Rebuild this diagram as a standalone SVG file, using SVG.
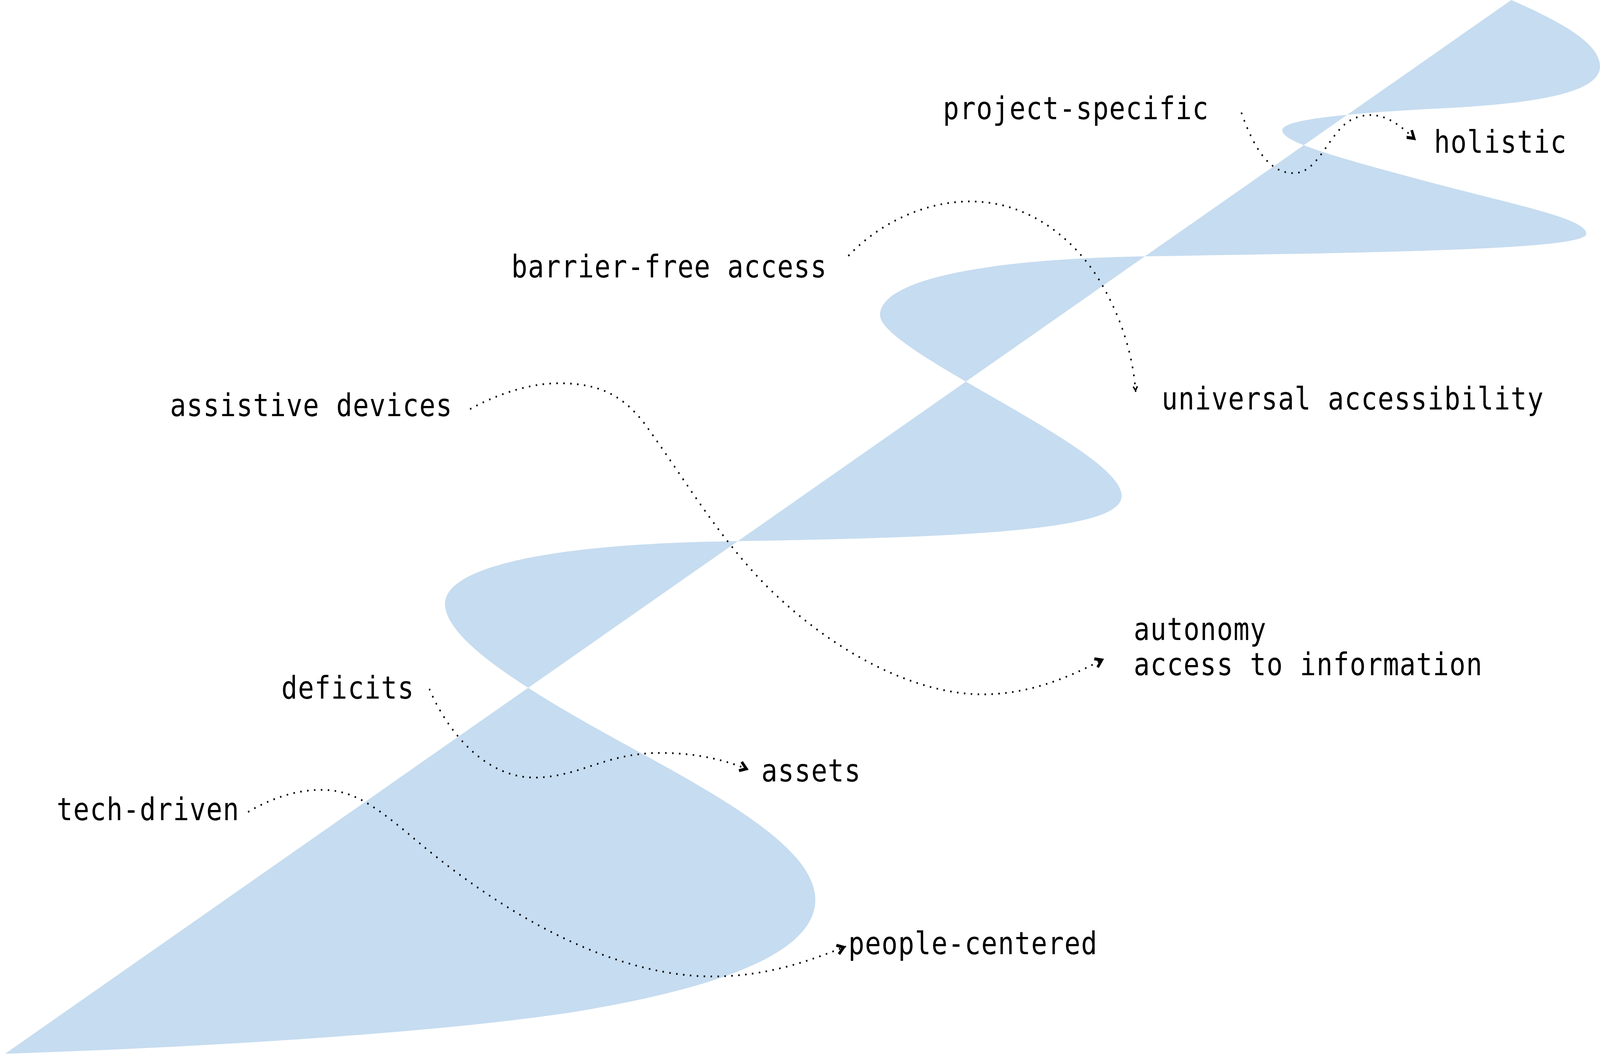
<svg xmlns="http://www.w3.org/2000/svg" width="4800" height="2700" viewBox="0 0 4800 2700" preserveAspectRatio="none">
<style>
svg{width:100vw;height:100vh}
.lbl{font-family:"DejaVu Sans Mono","Liberation Mono",monospace;font-size:80px;letter-spacing:1.7px;fill:#000}
.con{fill:none;stroke:#000;stroke-width:4.5;stroke-dasharray:4.5 16.2}
.ribbon{fill:#c6dcf0;fill-rule:nonzero;stroke:none}
</style>
<defs>
<marker id="arr" markerUnits="userSpaceOnUse" viewBox="-32 -18 36 36" refX="0" refY="0" markerWidth="36" markerHeight="36" orient="auto">
<path d="M0,0 L-24,-15 L-29,-9 L-15,0 L-29,9 L-24,15 Z" fill="#000"/>
</marker>
<marker id="arrS" markerUnits="userSpaceOnUse" viewBox="-32 -18 36 36" refX="0" refY="0" markerWidth="19" markerHeight="19" orient="auto">
<path d="M0,0 L-24,-15 L-29,-9 L-15,0 L-29,9 L-24,15 Z" fill="#000"/>
</marker>
</defs>
<g id="ribbon">
<path class="ribbon" d="M15,2697 L4534,0 C4680,55 4800,110 4800,170 C4800,230 4650,265 4305,278 C4050,290 3847,305 3847,333 C3847,360 3950,390 4324,474 C4550,525 4759,560 4759,598 C4759,635 4300,645 3437,656 C2900,664 2640,725 2640,806 C2640,900 3365,1150 3365,1269 C3365,1350 3000,1375 2205,1385 C1600,1392 1335,1460 1335,1545 C1335,1650 1650,1800 1931,1931 C2200,2057 2446,2180 2446,2303 C2446,2440 2150,2530 1721,2590 C1300,2645 600,2680 15,2697 Z"/>
</g>
<g id="connectors">
<path id="c-project-holistic" class="con" marker-end="url(#arr)" d="M3724,288 C3770,400 3820,445 3885,443 C3960,440 3990,330 4060,304 C4140,275 4198,318 4248,359"/>
<path id="c-barrier-universal" class="con" marker-end="url(#arrS)" d="M2545,655 C2650,560 2800,510 2930,516 C3100,522 3230,620 3300,720 C3370,820 3400,920 3407,1003"/>
<path id="c-assistive-autonomy" class="con" marker-end="url(#arr)" d="M1410,1047 C1500,1005 1600,978 1693,981 C1790,984 1860,1005 1930,1080 C2050,1220 2150,1370 2300,1500 C2500,1670 2750,1780 2956,1777 C3100,1775 3220,1728 3312,1686"/>
<path id="c-deficits-assets" class="con" marker-end="url(#arr)" d="M1288,1763 C1320,1830 1430,1995 1613,1990 C1750,1985 1820,1925 1990,1927 C2100,1928 2185,1948 2246,1970"/>
<path id="c-tech-people" class="con" marker-end="url(#arr)" d="M744,2078 C820,2040 900,2018 982,2022 C1060,2026 1120,2060 1220,2130 C1450,2300 1800,2500 2142,2499 C2300,2498 2420,2462 2538,2422"/>
</g>
<g id="n-project-specific"><text class="lbl" x="2829" y="305">project-specific</text></g>
<g id="n-holistic"><text class="lbl" x="4302" y="391">holistic</text></g>
<g id="n-barrier-free"><text class="lbl" x="1534" y="710">barrier-free access</text></g>
<g id="n-universal"><text class="lbl" x="3485" y="1048">universal accessibility</text></g>
<g id="n-assistive"><text class="lbl" x="510" y="1065">assistive devices</text></g>
<g id="n-autonomy"><text class="lbl" x="3401" y="1638">autonomy</text><text class="lbl" x="3401" y="1728">access to information</text></g>
<g id="n-deficits"><text class="lbl" x="844" y="1788">deficits</text></g>
<g id="n-assets"><text class="lbl" x="2284" y="2000">assets</text></g>
<g id="n-tech-driven"><text class="lbl" x="170" y="2099">tech-driven</text></g>
<g id="n-people-centered"><text class="lbl" x="2545" y="2442">people-centered</text></g>
</svg>
